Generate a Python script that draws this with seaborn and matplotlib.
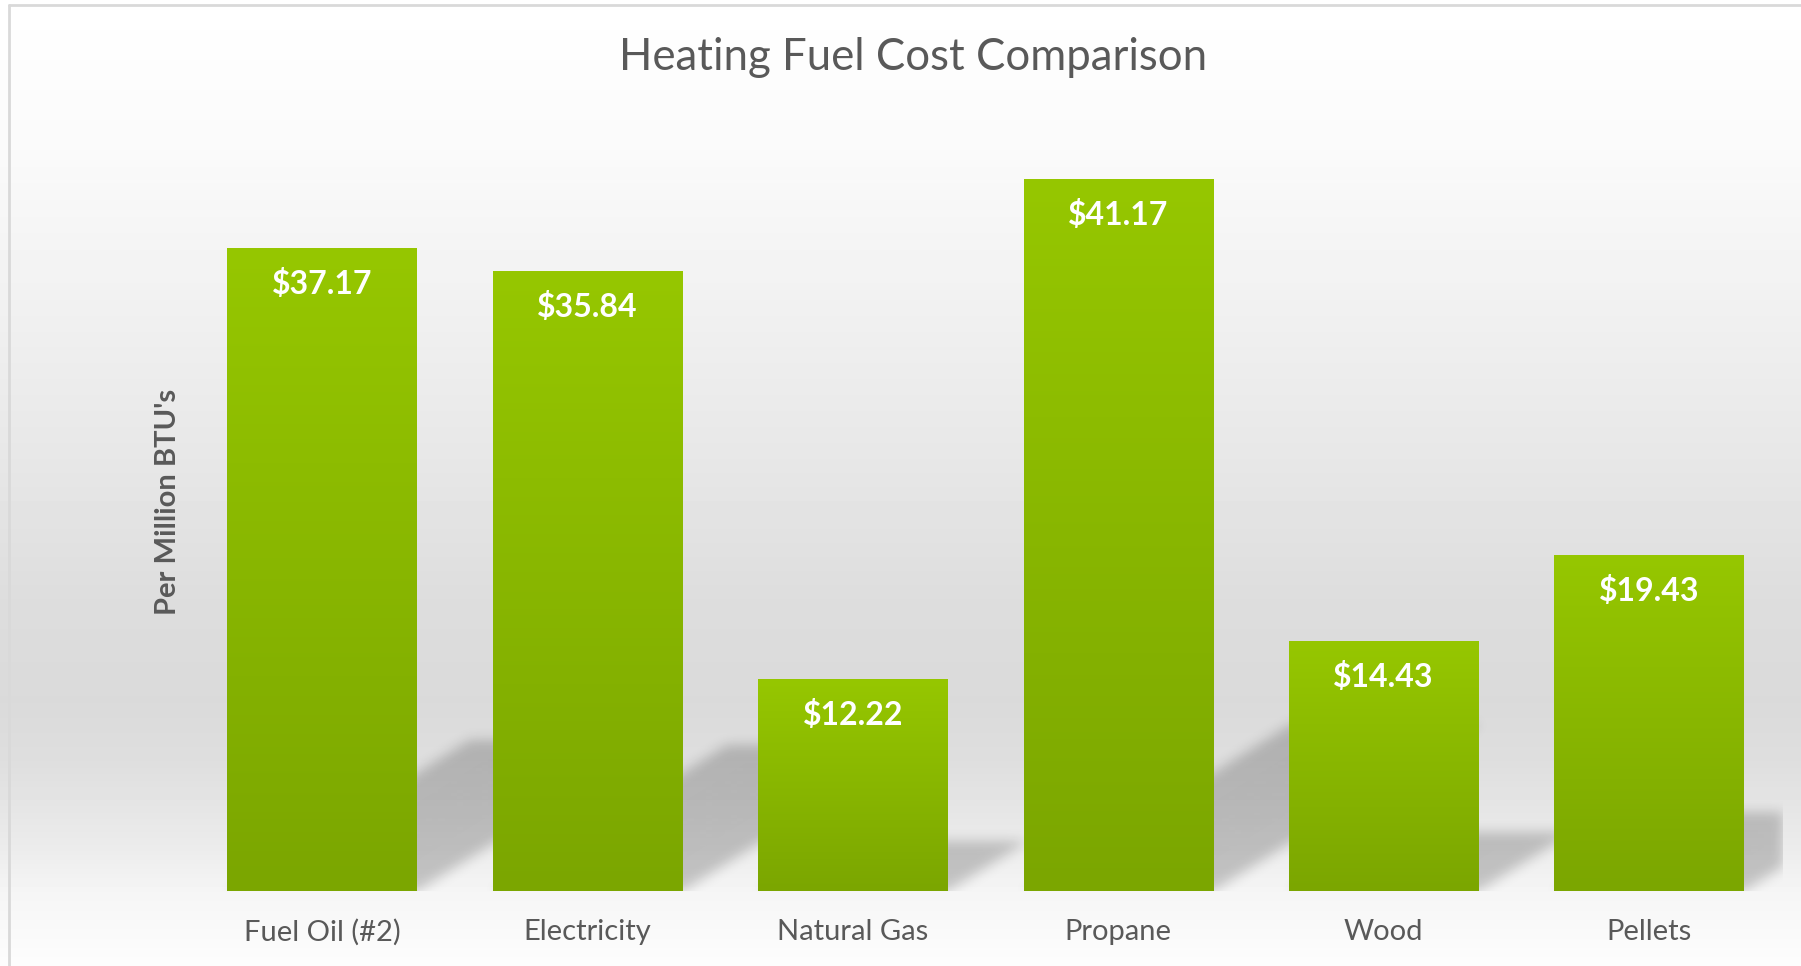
import numpy as np
import pandas as pd
import matplotlib
matplotlib.use("Agg")
import matplotlib.pyplot as plt
import seaborn as sns

# values ($ per million BTU)
fuels = ["Fuel Oil (#2)", "Electricity", "Natural Gas", "Propane", "Wood", "Pellets"]
cost_per_mmbtu = [37.17, 35.84, 12.22, 41.17, 14.43, 19.43]
value_labels = ["$37.17", "$35.84", "$12.22", "$41.17", "$14.43", "$19.43"]

title = "Heating Fuel Cost Comparison"
y_label = "Per Million BTU's"

df = pd.DataFrame({"Fuel": fuels, "Cost": cost_per_mmbtu})

sns.set_style("white")
plt.rcParams["font.family"] = ["Lato", "DejaVu Sans"]

W, H = 1801, 966
fig = plt.figure(figsize=(W / 100, H / 100), dpi=100)

# soft grey background gradient behind the whole chart
bg = fig.add_axes([0, 0, 1, 1], zorder=-10)
stops_y = [0, 150, 300, 460, 600, 700, 760, 850, 891, 966]
stops_v = [255, 250, 241, 231, 221, 218, 222, 236, 245, 253]
rows = np.interp(np.arange(H), stops_y, stops_v) / 255
bg_img = np.repeat(rows[:, None], 16, axis=1)
bg.imshow(bg_img, cmap="gray", vmin=0, vmax=1, aspect="auto",
          extent=[0, 1, 0, 1], interpolation="nearest")
bg.plot([9 / W, 9 / W], [0, 1 - 5 / H], color="#d9d9d9", lw=2)
bg.plot([9 / W, 1], [1 - 5 / H, 1 - 5 / H], color="#d9d9d9", lw=2)
bg.set_xlim(0, 1)
bg.set_ylim(0, 1)
bg.set_axis_off()

# main plot area
ymax = 46
px_per_unit = 17.28
ax_left, ax_right, base = 189.5, 1781.7, 891
ax = fig.add_axes([ax_left / W, (H - base) / H, (ax_right - ax_left) / W,
                   ymax * px_per_unit / H])
ax.set_facecolor("none")

sns.barplot(data=df, x="Fuel", y="Cost", color="#8ab800", width=0.714,
            saturation=1, ax=ax, zorder=2)

bars = list(ax.patches)

# vertical green gradient on each bar
top_c = np.array([150, 199, 0]) / 255
bot_c = np.array([123, 166, 0]) / 255
grad = np.linspace(0, 1, 256)[:, None, None]
grad_img = top_c * (1 - grad) + bot_c * grad
for p in bars:
    x0, w, h = p.get_x(), p.get_width(), p.get_height()
    ax.imshow(grad_img, extent=[x0, x0 + w, 0, h], aspect="auto",
              origin="upper", zorder=2, interpolation="bilinear")
    p.set_facecolor("none")
    p.set_edgecolor("none")

# perspective shadows falling to the upper right of each bar
ax_w_px = ax_right - ax_left
nx, ny = int(ax_w_px), int(ymax * px_per_unit)
xs = np.linspace(-0.5, 5.5, nx)
ys = np.linspace(0, ymax, ny)
XX, YY = np.meshgrid(xs, ys)
mask = np.zeros_like(XX)
px_per_cat = ax_w_px / 6
for p in bars:
    x0, x1, h = p.get_x(), p.get_x() + p.get_width(), p.get_height()
    sh = 0.235 * h
    shift = 1.6 * sh * px_per_unit / px_per_cat
    t = YY / sh
    inside = (YY <= sh) & (XX >= x0 + t * shift) & (XX <= x1 + t * shift)
    mask = np.maximum(mask, inside.astype(float))

k = np.exp(-0.5 * (np.arange(-18, 19) / 6.0) ** 2)
k /= k.sum()
mask = np.apply_along_axis(lambda r: np.convolve(r, k, mode="same"), 1, mask)
mask = np.apply_along_axis(lambda c: np.convolve(c, k, mode="same"), 0, mask)
shadow = np.zeros((ny, nx, 4))
shadow[..., 3] = 0.2 * mask
ax.imshow(shadow, extent=[-0.5, 5.5, 0, ymax], origin="lower", aspect="auto",
          zorder=1, interpolation="bilinear")

# value labels inside the bar tops
for p, lbl in zip(bars, value_labels):
    ax.annotate(lbl, (p.get_x() + p.get_width() / 2, p.get_height()),
                xytext=(0, -25.5), textcoords="offset points", ha="center",
                va="center", color="white", fontweight="bold", fontsize=23,
                zorder=3)

ax.set_xlim(-0.5, 5.5)
ax.set_ylim(0, ymax)
ax.set_yticks([])
ax.set_xlabel("")
ax.set_ylabel("")
ax.tick_params(axis="x", length=0, pad=20, labelsize=21, labelcolor="#595959")
for s in ax.spines.values():
    s.set_visible(False)

fig.text(168 / W, 1 - 502 / H, y_label, rotation=90, ha="center", va="center",
         fontsize=21, fontweight="bold", color="#595959")
fig.text(913 / W, 1 - 57 / H, title, ha="center", va="center", fontsize=31.5,
         color="#595959")

fig.savefig("out.png", dpi=100)
print("saved out.png")
